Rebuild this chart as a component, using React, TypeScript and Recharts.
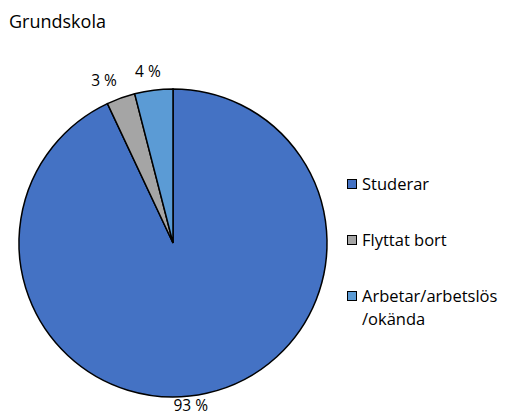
import { PieChart, Pie, Cell, Legend } from "recharts";

const categories = ["Studerar", "Flyttat bort", "Arbetar/arbetslös\n/okända"];
const shares = [93, 3, 4];
const colors = ["#4472C4", "#A5A5A5", "#5B9BD5"];

const chartData = categories.map((name, i) => ({ name, value: shares[i] }));

const RAD = Math.PI / 180;
const FONT = "'Open Sans', 'Liberation Sans', sans-serif";

function renderLabel(props: any) {
  const { cx, cy, midAngle, outerRadius, value, index } = props;
  // Excel-ish label placement just outside the rim
  const r = outerRadius + (index === 0 ? 10 : 14);
  const x = cx + r * Math.cos(-midAngle * RAD) + (index === 0 ? -18 : index === 1 ? -12 : -4);
  const y = cy + r * Math.sin(-midAngle * RAD) + (index === 0 ? 2 : -5);
  return (
    <text
      x={x}
      y={y}
      textAnchor="middle"
      dominantBaseline="central"
      fill="#000"
      fontSize={15.5}
      fontFamily={FONT}
    >
      {value} %
    </text>
  );
}

function LegendBox() {
  return (
    <div style={{ fontFamily: FONT, fontSize: 16.5, color: "#000" }}>
      {categories.map((c, i) => (
        <div
          key={c}
          style={{ display: "flex", alignItems: "flex-start", marginBottom: 33 }}
        >
          <span
            style={{
              width: 8,
              height: 8,
              marginTop: 7,
              marginRight: 5,
              flex: "none",
              background: colors[i],
              border: "1.5px solid #000",
            }}
          />
          <span style={{ lineHeight: "23px", whiteSpace: "pre" }}>{c}</span>
        </div>
      ))}
    </div>
  );
}

export default function App() {
  return (
    <div
      style={{
        position: "absolute",
        left: 0,
        top: 0,
        width: 505,
        height: 412,
        background: "#fff",
        overflow: "hidden",
      }}
    >
      <div
        style={{
          position: "absolute",
          left: 9,
          top: 9,
          fontFamily: FONT,
          fontSize: 18,
          color: "#000",
        }}
      >
        Grundskola
      </div>
      <PieChart width={505} height={412} margin={{ top: 0, right: 0, bottom: 0, left: 0 }}>
        <Pie
          data={chartData}
          dataKey="value"
          nameKey="name"
          cx={173}
          cy={243}
          outerRadius={154}
          startAngle={90}
          endAngle={-270}
          stroke="#000"
          strokeWidth={1.5}
          label={renderLabel}
          labelLine={false}
          isAnimationActive={false}
        >
          {chartData.map((d, i) => (
            <Cell key={d.name} fill={colors[i]} />
          ))}
        </Pie>
        <Legend
          content={() => <LegendBox />}
          wrapperStyle={{ position: "absolute", left: 347, top: 172, width: 158 }}
        />
      </PieChart>
    </div>
  );
}
